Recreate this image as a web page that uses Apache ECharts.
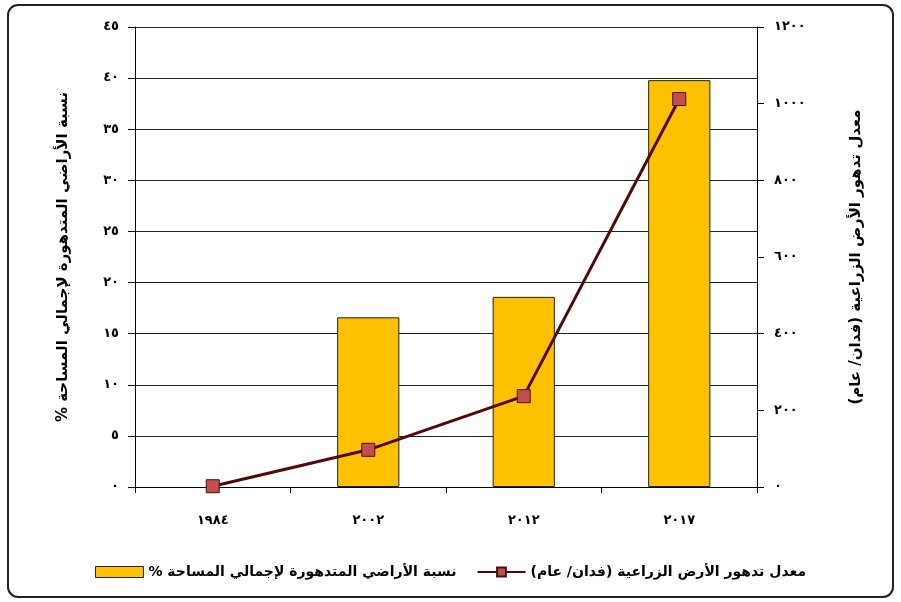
<!DOCTYPE html>
<html>
<head>
<meta charset="utf-8">
<script src="https://cdn.jsdelivr.net/npm/echarts@6/dist/echarts.min.js"></script>
<style>
  html, body { margin: 0; padding: 0; background: #fff; }
  #chart { width: 901px; height: 602px; }
</style>
</head>
<body>
<div id="chart"></div>
<script>
const categories = ['١٩٨٤', '٢٠٠٢', '٢٠١٢', '٢٠١٧']
const degradedShare = [0, 16.6, 18.6, 39.8]
const degradationRate = [2, 97, 237, 1012]
// RLM keeps the trailing % at the end of the Arabic run
const shareName = 'نسبة الأراضي المتدهورة لإجمالي المساحة %\u200F'
const rateName = 'معدل تدهور الأرض الزراعية (فدان/ عام)'

const arabicFont = '"DejaVu Sans", sans-serif'
const toArabicDigits = v => String(v).replace(/\d/g, d => '٠١٢٣٤٥٦٧٨٩'[d])

// a zero bar is not drawn in the original, so hide its outline
const shareData = degradedShare.map(v => v === 0 ? { value: v, itemStyle: { borderWidth: 0 } } : v)

const chart = echarts.init(document.getElementById('chart'))
chart.setOption({
  animation: false,
  textStyle: { fontFamily: arabicFont },
  graphic: [{
    type: 'rect',
    shape: { x: 8, y: 5, width: 885, height: 592, r: 10 },
    style: { fill: 'none', stroke: '#222', lineWidth: 2 },
    silent: true
  }],
  grid: { left: 135, right: 144, top: 27, bottom: 115 },
  legend: {
    bottom: 18,
    left: 'center',
    itemGap: 20,
    itemWidth: 48,
    itemHeight: 11,
    textStyle: { fontSize: 14, fontWeight: 'bold', color: '#000', fontFamily: arabicFont },
    data: [
      { name: shareName, icon: 'rect', itemStyle: { color: '#FFC000', borderColor: '#222', borderWidth: 1 } },
      { name: rateName }
    ]
  },
  xAxis: {
    type: 'category',
    data: categories,
    axisLine: { lineStyle: { color: '#000', width: 1 } },
    axisTick: { show: true, length: 6, lineStyle: { color: '#000' } },
    axisLabel: { color: '#000', fontSize: 13, fontWeight: 'bold', margin: 27 },
    splitLine: { show: false }
  },
  yAxis: [
    {
      type: 'value',
      min: 0,
      max: 45,
      interval: 5,
      name: shareName,
      nameLocation: 'middle',
      nameRotate: 90,
      nameGap: 64,
      nameTextStyle: { fontSize: 15, fontWeight: 'bold', color: '#000', fontFamily: arabicFont },
      axisLine: { show: true, lineStyle: { color: '#000' } },
      axisTick: { show: true, length: 7, lineStyle: { color: '#000' } },
      axisLabel: { color: '#000', fontSize: 13, fontWeight: 'bold', margin: 16, formatter: toArabicDigits },
      splitLine: { show: true, lineStyle: { color: '#222', width: 1 } }
    },
    {
      type: 'value',
      min: 0,
      max: 1200,
      interval: 200,
      name: rateName,
      nameLocation: 'middle',
      nameRotate: 90,
      nameGap: 92,
      nameTextStyle: { fontSize: 15, fontWeight: 'bold', color: '#000', fontFamily: arabicFont },
      axisLine: { show: true, lineStyle: { color: '#000' } },
      axisTick: { show: true, length: 7, lineStyle: { color: '#000' } },
      axisLabel: { color: '#000', fontSize: 13, fontWeight: 'bold', margin: 17, formatter: toArabicDigits },
      splitLine: { show: false }
    }
  ],
  series: [
    {
      name: shareName,
      type: 'bar',
      yAxisIndex: 0,
      barWidth: '40%',
      data: shareData,
      itemStyle: { color: '#FFC000', borderColor: '#222', borderWidth: 1 }
    },
    {
      name: rateName,
      type: 'line',
      yAxisIndex: 1,
      data: degradationRate,
      symbol: 'rect',
      symbolSize: 13,
      lineStyle: { color: '#520808', width: 3 },
      itemStyle: { color: '#C0504D', borderColor: '#4a1010', borderWidth: 1 }
    }
  ]
})
</script>
</body>
</html>
